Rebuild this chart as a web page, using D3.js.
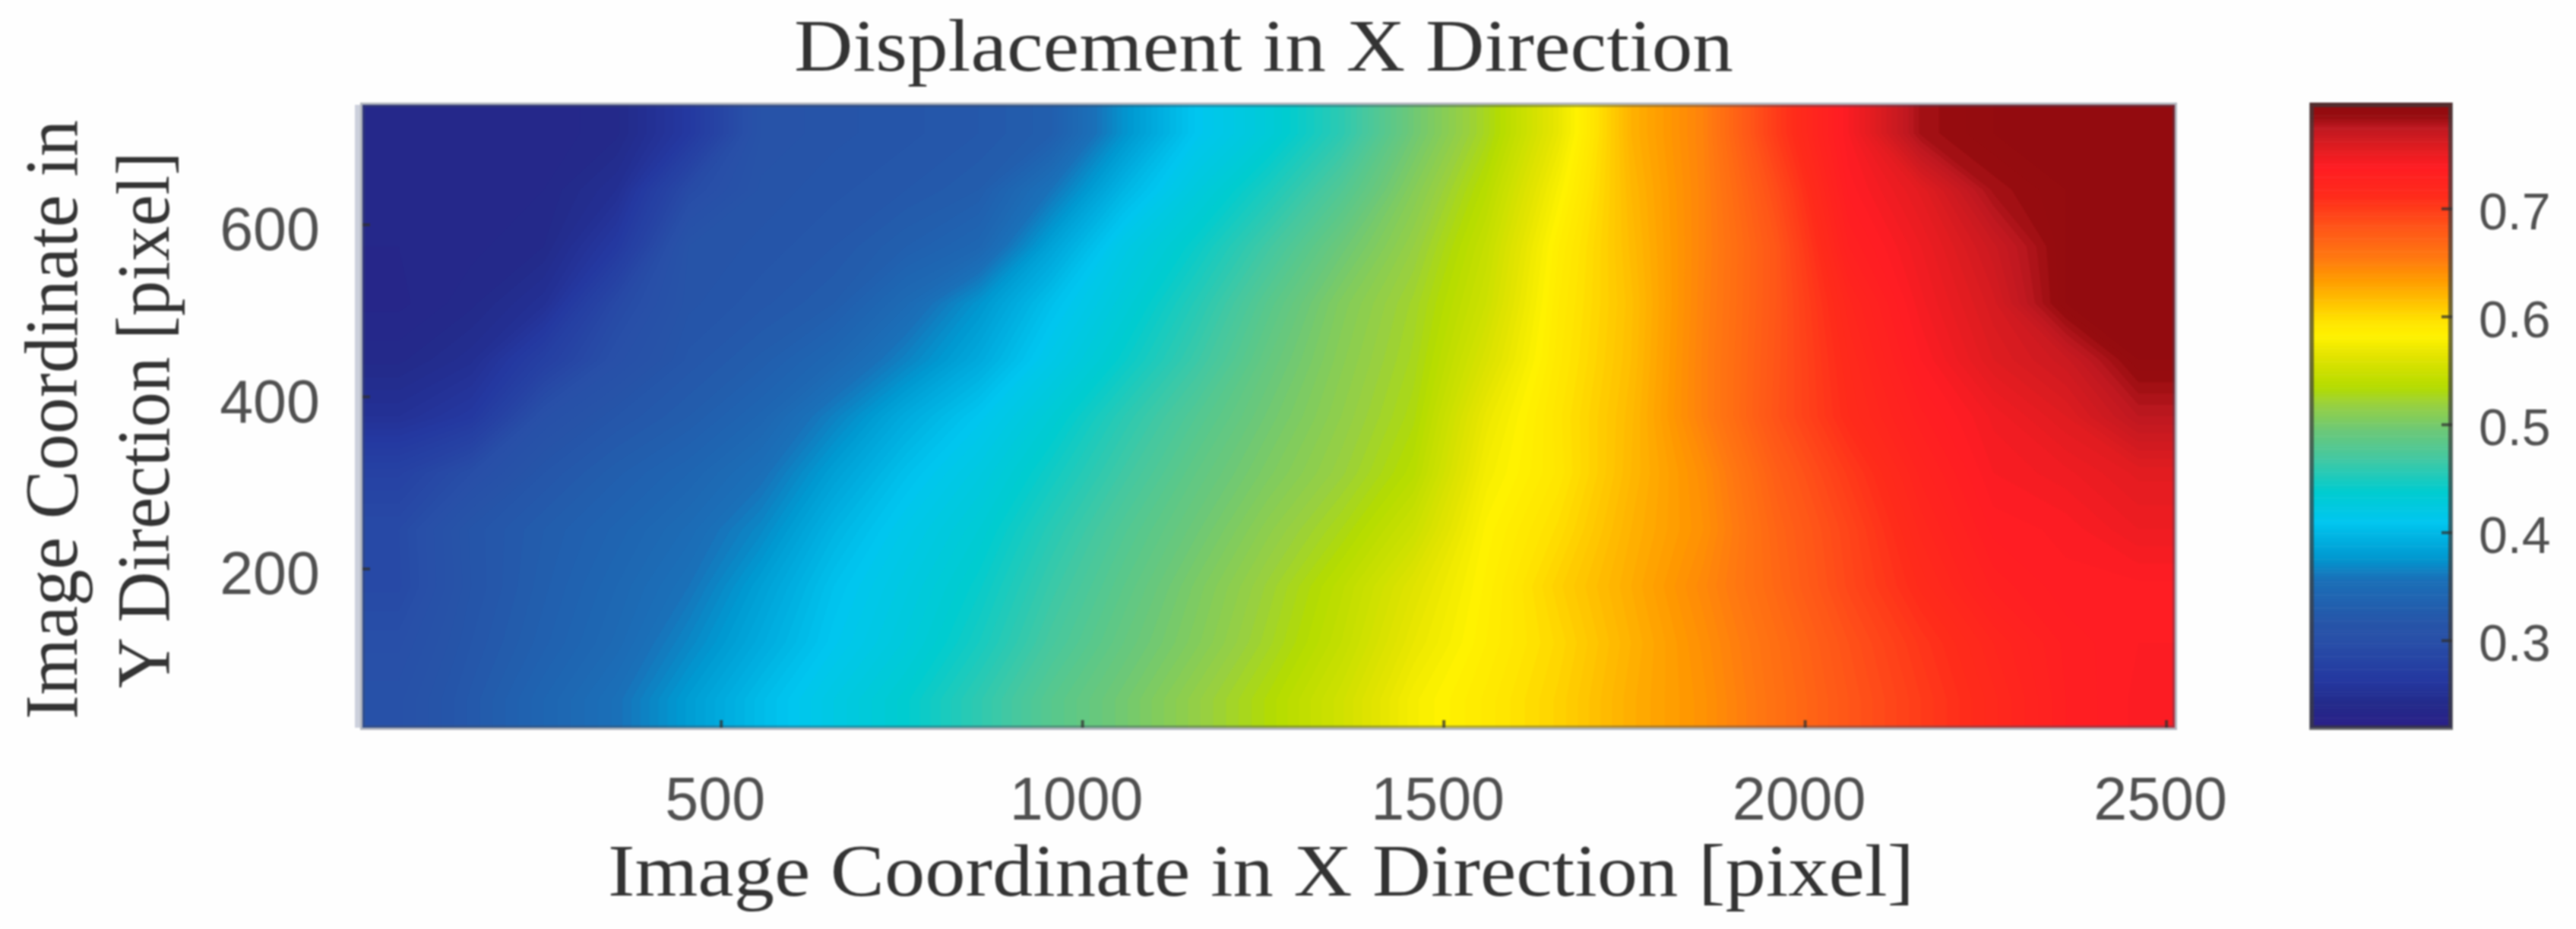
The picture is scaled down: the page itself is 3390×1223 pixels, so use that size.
<!DOCTYPE html>
<html>
<head>
<meta charset="utf-8">
<script src="https://cdn.jsdelivr.net/npm/d3@7"></script>
<style>
  body { margin: 0; background: #fefefe; }
  svg { display: block; filter: blur(0.9px); }
  text { font-family: "Liberation Sans", sans-serif; fill: #505050; }
  .serif { font-family: "Liberation Serif", serif; fill: #333; }
</style>
</head>
<body>
<svg id="chart" width="3390" height="1223"></svg>
<script>
const titleText = 'Displacement in X Direction';
const xLabel = 'Image Coordinate in X Direction [pixel]';
const yLabelLines = ['Image Coordinate in', 'Y Direction [pixel]'];

const xTicks = [500, 1000, 1500, 2000, 2500];
const yTicks = [200, 400, 600];
const barTicks = [0.3, 0.4, 0.5, 0.6, 0.7];

const xDomain = [4, 2512];
const yDomain = [15, 739];
const barDomain = [0.219, 0.796];

// colour bar, value -> colour
const colorValues = [0.22, 0.24, 0.262, 0.30, 0.314, 0.355, 0.375, 0.408, 0.436, 0.468, 0.493, 0.517, 0.533, 0.563, 0.58, 0.594, 0.613, 0.634, 0.652, 0.681, 0.709, 0.737, 0.755, 0.774, 0.784, 0.796];
const colorStops = ['#2a2088', '#232a8a', '#2438a0', '#2850a8', '#2654a8', '#1a70b8', '#0098d0', '#00c6f0', '#00ccd0', '#45c8a0', '#6cc878', '#98d040', '#b4dc00', '#e4e400', '#fff200', '#ffe400', '#ffc000', '#ff9800', '#ff7a10', '#ff5518', '#ff2c1a', '#ff1c23', '#e01c20', '#bd1820', '#960c0f', '#900a0e'];

// displacement, top row first, 25 cells across
const displacement = [
  [.235,.235,.236,.240,.264,.310,.315,.318,.322,.330,.374,.410,.431,.458,.496,.527,.568,.622,.649,.700,.742,.782,.790,.790,.790],
  [.235,.236,.238,.250,.293,.314,.318,.322,.328,.358,.397,.426,.450,.477,.508,.537,.578,.619,.648,.689,.737,.755,.782,.790,.790],
  [.235,.237,.241,.265,.313,.317,.322,.331,.342,.384,.419,.442,.468,.494,.517,.545,.586,.617,.648,.682,.730,.748,.768,.790,.790],
  [.234,.240,.252,.290,.315,.321,.328,.348,.375,.405,.430,.455,.482,.506,.524,.550,.589,.615,.649,.682,.720,.744,.762,.790,.790],
  [.240,.249,.275,.302,.320,.329,.343,.366,.389,.417,.441,.465,.490,.510,.527,.558,.591,.616,.650,.683,.715,.739,.757,.768,.790],
  [.253,.264,.303,.319,.328,.341,.365,.390,.410,.433,.457,.478,.497,.514,.531,.569,.594,.618,.650,.684,.712,.732,.746,.757,.775],
  [.279,.298,.319,.330,.340,.355,.382,.405,.423,.445,.467,.487,.504,.519,.537,.575,.593,.619,.642,.675,.701,.725,.742,.747,.755],
  [.292,.317,.328,.338,.350,.369,.396,.416,.433,.456,.477,.495,.513,.529,.549,.581,.599,.622,.640,.670,.694,.719,.737,.740,.748],
  [.291,.316,.330,.343,.358,.382,.406,.423,.441,.464,.484,.503,.521,.540,.562,.584,.606,.625,.645,.668,.692,.713,.731,.738,.738],
  [.300,.319,.333,.347,.368,.390,.411,.428,.448,.471,.490,.507,.525,.544,.568,.586,.602,.622,.641,.663,.685,.704,.721,.734,.739],
  [.306,.323,.340,.356,.380,.402,.421,.438,.459,.481,.498,.516,.533,.552,.576,.590,.605,.624,.639,.661,.682,.700,.717,.733,.740]
];

const svg = d3.select('#chart');
svg.append('rect').attr('width', 3390).attr('height', 1223).attr('fill', '#fefefe');

const plotBox = { left: 477, right: 2862, top: 138, bottom: 958 };
const barBox = { left: 3040, right: 3227, top: 138, bottom: 958 };

const x = d3.scaleLinear().domain(xDomain).range([plotBox.left, plotBox.right]);
const y = d3.scaleLinear().domain(yDomain).range([plotBox.bottom, plotBox.top]);
const barY = d3.scaleLinear().domain(barDomain).range([barBox.bottom, barBox.top]);
const color = d3.scaleLinear().domain(colorValues).range(colorStops).clamp(true);

const rows = displacement.length;
const cols = displacement[0].length;

// edge cells repeated once so contour corners land outside the clip
const padRow = r => [r[0], ...r, r[cols - 1]];
const padded = [displacement[0], ...displacement, displacement[rows - 1]].map(padRow);

const gridX = d3.scaleLinear().domain([1, cols + 1]).range(xDomain);
const gridY = d3.scaleLinear().domain([1, rows + 1]).range([yDomain[1], yDomain[0]]);

// filled contours, lots of levels so the bands read as a smooth field
const levels = d3.range(0.22, 0.796, 0.003);
const contours = d3.contours()
  .size([cols + 2, rows + 2])
  .smooth(true)
  .thresholds(levels)(padded.flat());

const toPlot = d3.geoTransform({
  point: function(px, py) {
    this.stream.point(x(gridX(px)), y(gridY(py)));
  }
});
const path = d3.geoPath(toPlot);

svg.append('defs').append('clipPath').attr('id', 'plotClip')
  .append('rect')
  .attr('x', plotBox.left)
  .attr('y', plotBox.top)
  .attr('width', plotBox.right - plotBox.left)
  .attr('height', plotBox.bottom - plotBox.top);

svg.append('g')
  .attr('clip-path', 'url(#plotClip)')
  .selectAll('path')
  .data(contours)
  .join('path')
  .attr('d', path)
  .attr('fill', d => color(d.value));

// colour bar
const barStep = 0.003;
svg.append('g')
  .selectAll('rect')
  .data(d3.range(barDomain[0], barDomain[1], barStep))
  .join('rect')
  .attr('x', barBox.left)
  .attr('width', barBox.right - barBox.left)
  .attr('y', d => barY(d + barStep))
  .attr('height', d => barY(d) - barY(d + barStep) + 0.5)
  .attr('fill', d => color(d));

// frames
svg.append('rect')
  .attr('x', plotBox.left - 10)
  .attr('y', plotBox.top)
  .attr('width', 7)
  .attr('height', plotBox.bottom - plotBox.top)
  .attr('fill', '#ccd0dc');

svg.append('rect')
  .attr('x', plotBox.left)
  .attr('y', plotBox.top)
  .attr('width', plotBox.right - plotBox.left)
  .attr('height', plotBox.bottom - plotBox.top)
  .attr('fill', 'none')
  .attr('stroke', '#404a60')
  .attr('stroke-opacity', 0.4)
  .attr('stroke-width', 6);

svg.append('rect')
  .attr('x', barBox.left + 2)
  .attr('y', barBox.top)
  .attr('width', barBox.right - barBox.left - 4)
  .attr('height', barBox.bottom - barBox.top)
  .attr('fill', 'none')
  .attr('stroke', '#3a3a3a')
  .attr('stroke-opacity', 0.7)
  .attr('stroke-width', 6);

// axes
const xAxis = svg.append('g')
  .attr('transform', `translate(0,${plotBox.bottom})`)
  .call(d3.axisBottom(x).tickValues(xTicks).tickSizeInner(-10).tickSizeOuter(0).tickPadding(65).tickFormat(d3.format('d')));
const yAxis = svg.append('g')
  .attr('transform', `translate(${plotBox.left},0)`)
  .call(d3.axisLeft(y).tickValues(yTicks).tickSizeInner(-10).tickSizeOuter(0).tickPadding(56).tickFormat(d3.format('d')));
const barAxis = svg.append('g')
  .attr('transform', `translate(${barBox.right},0)`)
  .call(d3.axisRight(barY).tickValues(barTicks).tickSizeInner(-14).tickSizeOuter(0).tickPadding(35).tickFormat(d3.format('.1f')));

[xAxis, yAxis, barAxis].forEach(axis => {
  axis.attr('font-family', null).attr('font-size', null);
  axis.select('.domain').remove();
  axis.selectAll('line').attr('stroke', '#303030').attr('stroke-width', 4).attr('stroke-opacity', 0.75);
  axis.selectAll('text').attr('fill', null);
});
xAxis.selectAll('text').style('font-size', '79px').attr('dx', -8);
yAxis.selectAll('text').style('font-size', '79px').attr('y', 8);
barAxis.selectAll('text').style('font-size', '68px').attr('y', 5);

// titles
svg.append('text')
  .attr('class', 'serif')
  .attr('x', 1045)
  .attr('y', 93)
  .attr('font-size', 98)
  .attr('textLength', 1236)
  .attr('lengthAdjust', 'spacingAndGlyphs')
  .text(titleText);

svg.append('text')
  .attr('class', 'serif')
  .attr('x', 800)
  .attr('y', 1179)
  .attr('font-size', 97)
  .attr('textLength', 1719)
  .attr('lengthAdjust', 'spacingAndGlyphs')
  .text(xLabel);

svg.append('text')
  .attr('class', 'serif')
  .attr('transform', 'translate(101,947) rotate(-90)')
  .attr('font-size', 100)
  .attr('textLength', 789)
  .attr('lengthAdjust', 'spacingAndGlyphs')
  .text(yLabelLines[0]);

svg.append('text')
  .attr('class', 'serif')
  .attr('transform', 'translate(222,906) rotate(-90)')
  .attr('font-size', 100)
  .attr('textLength', 706)
  .attr('lengthAdjust', 'spacingAndGlyphs')
  .text(yLabelLines[1]);
</script>
</body>
</html>
